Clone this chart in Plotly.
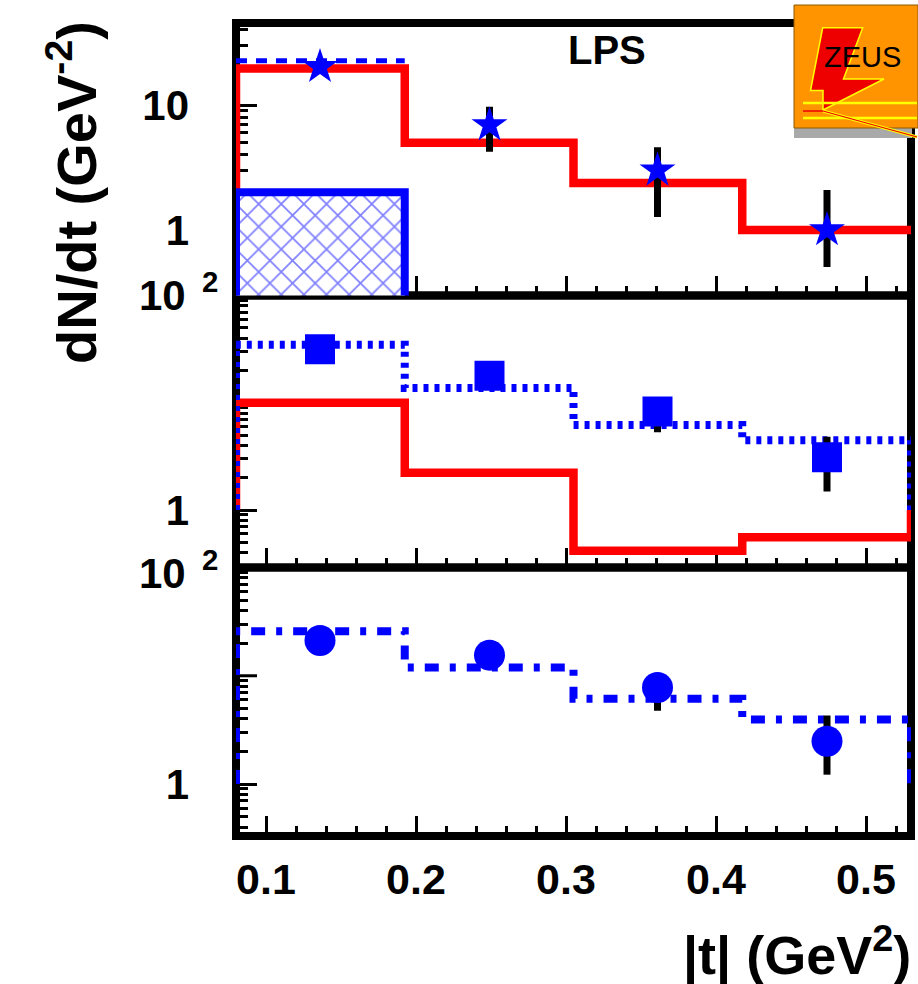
import plotly.graph_objects as go

# ---------------- data ----------------
bin_edges = [0.08, 0.1925, 0.305, 0.4175, 0.53]
t_points = [0.136, 0.249, 0.361, 0.474]
edge_level = 1.0          # level the histogram outlines drop to outside the range

# top panel (LPS)
lps_red = [19.6, 5.0, 2.38, 1.0]
lps_blue_dashed = [22.6]
lps_hatched = [2.0]
lps_stars = [20.2, 6.9, 3.0, 1.0]
lps_err_up = [21.5, 9.7, 4.6, 2.09]
lps_err_down = [19.0, 4.23, 1.27, 0.506]

# middle panel
mid_blue = [34.7, 13.7, 6.2, 4.47]
mid_red = [10.0, 2.23, 0.416, 0.557]
mid_squares = [31.5, 17.9, 8.3, 3.1]
mid_err_up = [33.5, 19.0, 10.0, 4.82]
mid_err_down = [29.5, 16.8, 5.3, 1.49]

# bottom panel
bot_blue = [25.8, 11.9, 6.12, 3.95]
bot_circles = [21.2, 15.5, 7.78, 2.48]
bot_err_up = [22.5, 16.5, 9.5, 4.29]
bot_err_down = [20.0, 14.5, 4.74, 1.22]

x_tick_vals = [0.1, 0.2, 0.3, 0.4, 0.5]
x_tick_text = ["0.1", "0.2", "0.3", "0.4", "0.5"]
x_minor_vals = [round(0.08 + 0.02 * k, 2) for k in range(23)]
x_minor_vals = [v for v in x_minor_vals if v not in x_tick_vals]
minor_mult = [2, 3, 4, 5, 6, 7, 8, 9]
decades = [0.1, 1, 10]
y_minor_vals = [d * m for d in decades for m in minor_mult]

# y ranges (log10) of the three panels
rng_top = [-0.524, 1.656]
rng_mid = [-0.536, 2.0]
rng_bot = [-0.48, 2.0]

# ---------------- geometry ----------------
W, H = 918, 984
L, R, T, B = 236, 7, 23, 148
PW = W - L - R
PH = H - T - B


def px(xp):
    return (xp - L) / PW


def py(yp):
    return (H - B - yp) / PH


dom_top = [py(295.5), 1.0]
dom_mid = [py(567.5), py(295.5)]
dom_bot = [0.0, py(567.5)]

FONT = "Liberation Sans, Arial, Helvetica, sans-serif"
BLUE = "#0000FF"
RED = "#FF0000"


def step_xy(edges, vals, lo=None, hi=None):
    xs, ys = [], []
    if lo is not None:
        xs.append(edges[0]); ys.append(lo)
    for i, v in enumerate(vals):
        xs += [edges[i], edges[i + 1]]
        ys += [v, v]
    if hi is not None:
        xs.append(edges[len(vals)]); ys.append(hi)
    return xs, ys


def points(vals, up, down, symbol, size, xa, ya):
    return go.Scatter(
        x=t_points, y=vals, mode="markers", xaxis=xa, yaxis=ya,
        marker=dict(symbol=symbol, size=size, color=BLUE, line=dict(width=0)),
        error_y=dict(type="data", symmetric=False,
                     array=[u - v for u, v in zip(up, vals)],
                     arrayminus=[v - d for v, d in zip(vals, down)],
                     color="black", thickness=7, width=0),
        showlegend=False, hoverinfo="skip")


fig = go.Figure()

# ---- top panel ----
sx, sy = step_xy(bin_edges, lps_red, lo=edge_level, hi=edge_level)
fig.add_trace(go.Scatter(x=sx, y=sy, mode="lines", xaxis="x", yaxis="y",
                         line=dict(color=RED, width=8.5), showlegend=False))
floor = 0.01
hx = [bin_edges[0], bin_edges[0], bin_edges[1], bin_edges[1], bin_edges[0]]
hy = [floor, lps_hatched[0], lps_hatched[0], floor, floor]
fig.add_trace(go.Scatter(x=hx, y=hy, mode="lines", fill="toself", xaxis="x", yaxis="y",
                         fillcolor="rgba(0,0,0,0)",
                         fillpattern=dict(shape="x", fgcolor=BLUE, bgcolor="white",
                                          size=16, solidity=0.2),
                         line=dict(color=BLUE, width=8), showlegend=False))
bx, by = step_xy(bin_edges, lps_blue_dashed)
fig.add_trace(go.Scatter(x=bx, y=by, mode="lines", xaxis="x", yaxis="y",
                         line=dict(color=BLUE, width=5, dash="11px,9px"), showlegend=False))
fig.add_trace(points(lps_stars, lps_err_up, lps_err_down, "star", 27, "x", "y"))

# ---- middle panel ----
sx, sy = step_xy(bin_edges, mid_red, lo=edge_level, hi=edge_level)
fig.add_trace(go.Scatter(x=sx, y=sy, mode="lines", xaxis="x2", yaxis="y2",
                         line=dict(color=RED, width=8.5), showlegend=False))
sx, sy = step_xy(bin_edges, mid_blue, lo=edge_level, hi=edge_level)
fig.add_trace(go.Scatter(x=sx, y=sy, mode="lines", xaxis="x2", yaxis="y2",
                         line=dict(color=BLUE, width=8, dash="5px,6px"), showlegend=False))
fig.add_trace(points(mid_squares, mid_err_up, mid_err_down, "square", 30, "x2", "y2"))

# ---- bottom panel ----
sx, sy = step_xy(bin_edges, bot_blue, lo=edge_level, hi=edge_level)
fig.add_trace(go.Scatter(x=sx, y=sy, mode="lines", xaxis="x3", yaxis="y3",
                         line=dict(color=BLUE, width=8, dash="14px,11px,6px,11px"),
                         showlegend=False))
fig.add_trace(points(bot_circles, bot_err_up, bot_err_down, "circle", 31, "x3", "y3"))


def xaxis_cfg(anchor, labels):
    return dict(range=[bin_edges[0], bin_edges[-1]], domain=[0, 1], anchor=anchor,
                showline=False, showgrid=False, zeroline=False,
                ticks="inside", tickvals=x_tick_vals, ticktext=x_tick_text,
                ticklen=20, tickwidth=3, tickcolor="black",
                showticklabels=labels, ticklabelstandoff=14,
                tickfont=dict(family=FONT, size=43, color="black", weight="bold"),
                minor=dict(tickvals=x_minor_vals, ticks="inside", ticklen=10,
                           tickwidth=3, tickcolor="black", showgrid=False),
                layer="below traces", fixedrange=True)


def yaxis_cfg(anchor, dom, rng, vals, texts):
    return dict(type="log", range=rng, domain=dom, anchor=anchor,
                showline=False, showgrid=False, zeroline=False,
                ticks="inside", tickvals=vals, ticktext=texts,
                ticklen=21, tickwidth=3, tickcolor="black",
                ticklabelstandoff=46,
                tickfont=dict(family=FONT, size=42, color="black", weight="bold"),
                minor=dict(tickvals=y_minor_vals, ticks="inside", ticklen=12,
                           tickwidth=3, tickcolor="black", showgrid=False),
                layer="below traces", fixedrange=True)


fig.update_layout(
    width=W, height=H, margin=dict(l=L, r=R, t=T, b=B, pad=0),
    paper_bgcolor="white", plot_bgcolor="white", showlegend=False,
    xaxis=xaxis_cfg("y", False), xaxis2=xaxis_cfg("y2", False), xaxis3=xaxis_cfg("y3", True),
    yaxis=yaxis_cfg("x", dom_top, rng_top, [1, 10], ["1", "10"]),
    yaxis2=yaxis_cfg("x2", dom_mid, rng_mid, [1], ["1"]),
    yaxis3=yaxis_cfg("x3", dom_bot, rng_bot, [1], ["1"]),
)

shapes = []
for dom in (dom_top, dom_mid, dom_bot):
    shapes.append(dict(type="rect", xref="paper", yref="paper", x0=0, x1=1,
                       y0=dom[0], y1=dom[1], line=dict(color="black", width=8),
                       fillcolor="rgba(0,0,0,0)", layer="below"))

# unlabelled major tick at 10 in the middle and bottom panels
for dom, rng in ((dom_mid, rng_mid), (dom_bot, rng_bot)):
    frac = (1.0 - rng[0]) / (rng[1] - rng[0])
    yy = dom[0] + frac * (dom[1] - dom[0])
    shapes.append(dict(type="line", xref="paper", yref="paper", x0=0, x1=21 / PW,
                       y0=yy, y1=yy, line=dict(color="black", width=3), layer="below"))

# ZEUS logo (drawn on top)
shapes.append(dict(type="rect", xref="paper", yref="paper", x0=px(794), x1=px(912),
                   y0=py(138), y1=py(128), line=dict(width=0), fillcolor="#A9A9A9", layer="above"))
shapes.append(dict(type="rect", xref="paper", yref="paper", x0=px(794), x1=px(918),
                   y0=py(128), y1=py(5), line=dict(width=1, color="#8a5a00"),
                   fillcolor="#FF9400", layer="above"))
bolt = [(822.7, 27.7), (862.7, 27.7), (843.5, 79), (884, 79), (823, 110), (823, 90.5), (810.5, 90.5)]
path = "M " + " L ".join(f"{px(a):.5f},{py(b):.5f}" for a, b in bolt) + " Z"
shapes.append(dict(type="path", xref="paper", yref="paper", path=path,
                   fillcolor="#EE0000", line=dict(color="#FFFF00", width=1.5), layer="above"))
for yy in (103, 118):
    shapes.append(dict(type="line", xref="paper", yref="paper", x0=px(803), x1=px(917),
                       y0=py(yy), y1=py(yy), line=dict(color="#FFFF00", width=2.5), layer="above"))
shapes.append(dict(type="line", xref="paper", yref="paper", x0=px(803), x1=px(823),
                   y0=py(111), y1=py(111), line=dict(color="#EE0000", width=1.5), layer="above"))
shapes.append(dict(type="line", xref="paper", yref="paper", x0=px(823), x1=px(917),
                   y0=py(111), y1=py(137), line=dict(color="#FFFF00", width=3), layer="above"))
shapes.append(dict(type="line", xref="paper", yref="paper", x0=px(823), x1=px(917),
                   y0=py(111), y1=py(137), line=dict(color="#EE0000", width=1.2), layer="above"))
fig.update_layout(shapes=shapes)

ann = []
ann.append(dict(text="ZEUS", xref="paper", yref="paper", x=px(862), y=py(57),
                xanchor="center", yanchor="middle", showarrow=False,
                font=dict(family=FONT, size=29, color="black")))
ann.append(dict(text="LPS", xref="paper", yref="paper", x=px(607), y=py(50),
                xanchor="center", yanchor="middle", showarrow=False,
                font=dict(family=FONT, size=40, color="black", weight="bold")))
ann.append(dict(text="dN/dt (GeV<sup>-2</sup>)", xref="paper", yref="paper",
                x=px(72), y=py(193), xanchor="center", yanchor="middle",
                textangle=-90, showarrow=False,
                font=dict(family=FONT, size=56, color="black", weight="bold")))
ann.append(dict(text="|t| (GeV<sup>2</sup>)", xref="paper", yref="paper",
                x=px(913), y=py(952), xanchor="right", yanchor="middle", showarrow=False,
                font=dict(family=FONT, size=54, color="black", weight="bold")))
for ycen in (292, 570):
    ann.append(dict(text="10<sup>\u00a0\u00a02</sup>", xref="paper", yref="paper",
                    x=px(137), y=py(ycen), xanchor="left", yanchor="middle", showarrow=False,
                    font=dict(family=FONT, size=42, color="black", weight="bold")))
fig.update_layout(annotations=ann)

fig.write_html("out.html", config={"displayModeBar": False},
               post_script="document.body.style.margin='0px';")
